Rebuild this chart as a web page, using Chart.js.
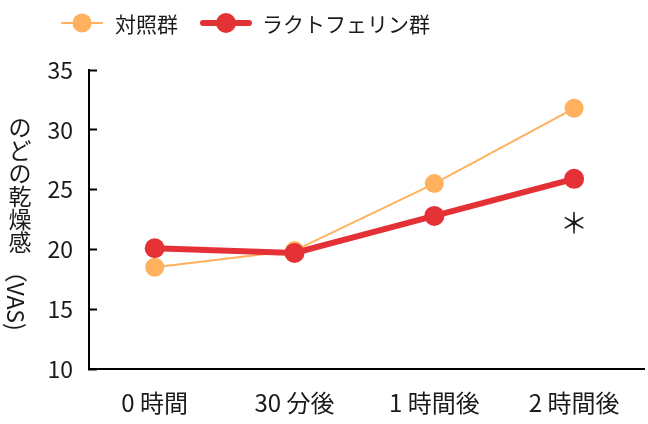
<!DOCTYPE html>
<html>
<head>
<meta charset="utf-8">
<script src="https://cdn.jsdelivr.net/npm/chart.js@4"></script>
<style>
  html, body { margin: 0; padding: 0; background: #fff; }
</style>
</head>
<body>
<canvas id="chart" width="648" height="424"></canvas>
<script>
const categories = ["0 時間", "30 分後", "1 時間後", "2 時間後"];
const seriesNames = ["対照群", "ラクトフェリン群"];
const controlValues = [18.5, 19.9, 25.5, 31.8];
const lactoferrinValues = [20.1, 19.7, 22.8, 25.9];
const yTicks = [10, 15, 20, 25, 30, 35];
const yTitle = "のどの乾燥感";
const yTitleUnit = "（VAS)";
// significance mark under the last red point
const markIndex = 3;
const markValue = 22.2;
const markText = "＊";

const FONT = "'Noto Sans CJK JP', 'Noto Sans', sans-serif";
const TEXT_COLOR = "#1a1a1a";
const ORANGE = "#ffb15e";
const RED = "#e33136";

function toPoints(values) {
  return values.map((v, i) => ({ x: i, y: v }));
}

// legend: line + circle, drawn by hand so the line shows through the marker
const legendPlugin = {
  id: "lineLegend",
  afterDraw(chart) {
    const ctx = chart.ctx;
    const items = [
      { ds: chart.data.datasets[0], x1: 62, x2: 102, tx: 115 },
      { ds: chart.data.datasets[1], x1: 203, x2: 249, tx: 262 }
    ];
    const y = 23;
    ctx.save();
    items.forEach(it => {
      ctx.strokeStyle = it.ds.borderColor;
      ctx.lineWidth = it.ds.borderWidth;
      ctx.lineCap = "round";
      ctx.beginPath();
      ctx.moveTo(it.x1, y);
      ctx.lineTo(it.x2, y);
      ctx.stroke();
      ctx.fillStyle = it.ds.pointBackgroundColor;
      ctx.beginPath();
      ctx.arc((it.x1 + it.x2) / 2, y, it.ds.pointRadius, 0, Math.PI * 2);
      ctx.fill();
      ctx.fillStyle = TEXT_COLOR;
      ctx.font = "21px " + FONT;
      ctx.textAlign = "left";
      ctx.textBaseline = "middle";
      ctx.fillText(it.ds.label, it.tx, y + 1);
    });
    ctx.restore();
  }
};

// vertical y title: kana/kanji upright, the (VAS) part turned
const yTitlePlugin = {
  id: "verticalTitle",
  afterDraw(chart) {
    const ctx = chart.ctx;
    const x = 20;
    let y = 127;
    const step = 23;
    ctx.save();
    ctx.fillStyle = TEXT_COLOR;
    ctx.font = "23px " + FONT;
    ctx.textAlign = "center";
    ctx.textBaseline = "middle";
    for (const ch of yTitle) {
      ctx.fillText(ch, x, y);
      y += step;
    }
    ctx.translate(x, y - step / 2 + 6);
    ctx.rotate(Math.PI / 2);
    ctx.textAlign = "left";
    ctx.fillText(yTitleUnit, 0, 4);
    ctx.restore();
  }
};

const markPlugin = {
  id: "sigMark",
  afterDatasetsDraw(chart) {
    const ctx = chart.ctx;
    const px = chart.scales.x.getPixelForValue(markIndex);
    const py = chart.scales.y.getPixelForValue(markValue);
    ctx.save();
    ctx.fillStyle = TEXT_COLOR;
    ctx.font = "28px " + FONT;
    ctx.textAlign = "center";
    ctx.textBaseline = "middle";
    ctx.fillText(markText, px, py);
    ctx.restore();
  }
};

new Chart(document.getElementById("chart"), {
  type: "line",
  data: {
    datasets: [
      {
        label: seriesNames[0],
        data: toPoints(controlValues),
        borderColor: ORANGE,
        backgroundColor: ORANGE,
        pointBackgroundColor: ORANGE,
        pointBorderWidth: 0,
        pointRadius: 9.5,
        borderWidth: 2,
        tension: 0,
        order: 1
      },
      {
        label: seriesNames[1],
        data: toPoints(lactoferrinValues),
        borderColor: RED,
        backgroundColor: RED,
        pointBackgroundColor: RED,
        pointBorderWidth: 0,
        pointRadius: 10,
        borderWidth: 6,
        tension: 0,
        order: 0
      }
    ]
  },
  options: {
    responsive: false,
    animation: false,
    devicePixelRatio: 1,
    layout: { autoPadding: false, padding: { top: 70, right: 4, left: 0, bottom: 0 } },
    plugins: {
      legend: { display: false },
      tooltip: { enabled: false }
    },
    scales: {
      x: {
        type: "linear",
        min: -0.47,
        max: 3.5,
        afterBuildTicks: s => { s.ticks = categories.map((c, i) => ({ value: i })); },
        afterFit: s => { s.height = 55; },
        grid: { display: false, drawTicks: false },
        border: { display: true, color: "#000", width: 2 },
        ticks: {
          autoSkip: false,
          maxRotation: 0,
          padding: 19,
          color: TEXT_COLOR,
          font: { family: FONT, size: 24 },
          callback: v => categories[v]
        }
      },
      y: {
        min: 10,
        max: 35,
        afterBuildTicks: s => { s.ticks = yTicks.map(v => ({ value: v })); },
        afterFit: s => { s.width = 89; },
        grid: {
          drawOnChartArea: false,
          drawTicks: true,
          tickLength: -8,
          tickWidth: 2,
          tickColor: "#000"
        },
        border: { display: true, color: "#000", width: 2 },
        ticks: {
          padding: 24,
          color: TEXT_COLOR,
          font: { family: FONT, size: 23 }
        }
      }
    }
  },
  plugins: [legendPlugin, yTitlePlugin, markPlugin]
});
</script>
</body>
</html>
